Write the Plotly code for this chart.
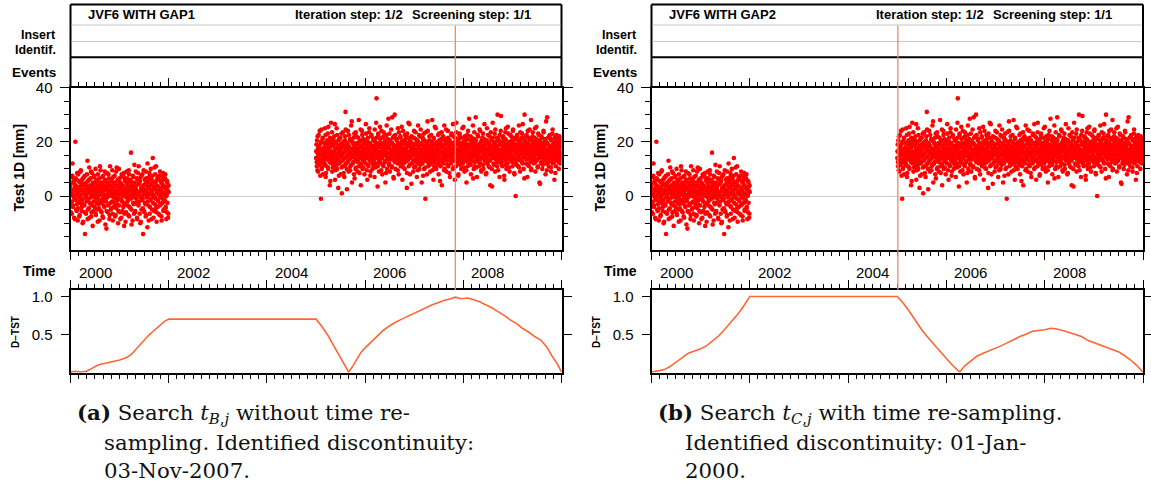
import plotly.graph_objects as go
import pandas as pd

# ---------------- data ----------------
SEG1_START = "2000-01-01"
SEG1_EXTRA_START = "2000-01-02 12:00"
SEG2_START = "2005-01-01"
SEG2_EXTRA_START = "2005-01-02 12:00"
SAMPLE_FREQ = "3D"

seg1_values = [
    3, -6, 1, 7, -2, 12, -4, 0, 5, -8, 2, -1, 20, 4, -5, 6, -3, 1, -9, 8,
    0, -2, 3, -7, 5, 9, -1, 2, -4, 6, -10, 1, 4, -3, 7, -6, -14, 2, 0, 5,
    -2, 8, 13, -5, 3, -1, 6, -8, 1, 4, -3, 9, -6, 0, 2, -11, 5, 7, -2, 3,
    -4, 1, 10, -7, 6, -1, 2, -5, 8, 0, -3, 4, -9, 11, 1, -2, 5, -6, 3, 7,
    -1, -8, 4, 2, -4, 9, 0, 6, -2, -12, 3, 5, -6, 1, 8, -3, 2, -7, 11, 4,
    -5, 0, 6, -2, 3, -9, 7, 1, -4, 5, 2, -1, -7, 9, 0, 4, -3, 6, -10, 2,
    10, -1, 3, -6, 5, 1, -8, 8, -2, 4, 0, -4, 7, -11, 2, 6, -3, 1, -6, 9,
    3, -2, 5, -7, 0, 8, -4, 2, 6, -1, 16, -5, 4, 1, -9, 3, 7, -3, 0, 5,
    -6, 2, 9, -1, 4, -8, 1, 6, -3, 11, -2, 5, 0, -10, 7, 3, -5, 2, 8, -1,
    -14, 4, 1, -6, 6, 2, -3, 9, -7, 0, 5, 12, -2, 3, -9, 7, 1, -4, 4, 10,
    -1, 6, -5, 2, 14, 0, -8, 5, 3, -3, 8, -1, 11, -6, 4, 1, -4, 7, -2, 6,
    2, -7, 9, 0, -3, 5, -9, 3, 7, -1, 4, -5, 6, 1, -2, 8, -4, 3, 0, -6, 5, 2, -8, 4,
]

seg1_extra_values = [
    -2.5, 4.5, 0.5, -6.5, 7.5, 1.5, -3.5, 5.5, -0.5, 2.5, -8.5, 3.5, 6.5, -1.5, 0.5, -5.5, 8.5, 2.5, -4.5, 1.5,
    5.5, -7.5, -0.5, 3.5, -2.5, 9.5, 0.5, -5.5, 4.5, -1.5, 6.5, -9.5, 2.5, 1.5, -3.5, 7.5, -0.5, 4.5, -6.5, 0.5,
    3.5, -1.5, -8.5, 5.5, 1.5, -4.5, 10.5, 2.5, -2.5, 6.5, -0.5, -7.5, 3.5, 8.5, -3.5, 0.5, 4.5, -5.5, 1.5, 7.5,
    -0.5, 2.5, -6.5, 4.5, -2.5, 0.5, 5.5, -9.5, 3.5, 1.5, -4.5, 6.5, -1.5, 2.5, 9.5, -5.5, 0.5, -2.5, 4.5, -7.5,
    1.5, 7.5, -3.5, 0.5, 5.5, -1.5, -10.5, 3.5, 2.5, -5.5, 8.5, -0.5, 4.5, -3.5, 1.5, 6.5, -8.5, 0.5, 3.5, -2.5,
    5.5, -4.5, 1.5, 9.5, -6.5, 2.5, -0.5, 4.5, -2.5, 7.5, -7.5, 0.5, 3.5, -4.5, 10.5, 1.5, -1.5, 5.5, -5.5, 2.5,
    -3.5, 6.5, 0.5, -8.5, 4.5, 2.5, -1.5, 7.5, -5.5, 1.5, 3.5, -2.5, 8.5, -6.5, 0.5, 5.5, -9.5, 2.5, -0.5, 4.5,
    6.5, -3.5, 1.5, -1.5, 9.5, -7.5, 3.5, 0.5, -4.5, 5.5, 2.5, -10.5, 4.5, -0.5, 7.5, -2.5, 1.5, -6.5, 11.5, 0.5,
    -5.5, 3.5, 2.5, -2.5, 6.5, -8.5, 0.5, 8.5, -3.5, 4.5, 1.5, -6.5, 5.5, -0.5, -9.5, 2.5, 7.5, -1.5, 3.5, -4.5,
    0.5, 9.5, -5.5, 2.5, -2.5, 4.5, -7.5, 6.5, 1.5, -0.5, -11.5, 3.5, 5.5, -3.5, 0.5, 8.5, -6.5, 2.5, -1.5, 6.5,
    4.5, -8.5, 1.5, 7.5, -2.5, 0.5, 3.5, -5.5, 10.5, -0.5, 2.5, -4.5, 5.5, -9.5, 1.5, 6.5, -1.5, 3.5, -6.5, 0.5,
    7.5, -3.5, 2.5, -0.5, 5.5, -7.5, 1.5, 4.5, -2.5, 8.5, -5.5, 0.5, 3.5, -1.5, 6.5, -4.5, 2.5, -8.5, 0.5, 5.5,
    -2.5, 3.5, -6.5, 1.5,
]

seg2_values = [
    14, 19, 11, 16, 22, 9, 15, 18, 13, 24, 12, 17, -1, 20, 10, 15, 21, 8, 16, 13,
    18, 12, 25, 14, 7, 17, 11, 19, 15, 23, 10, 16, 20, 13, 4, 18, 15, 27, 12, 21,
    9, 16, 14, 19, 11, 22, 17, 6, 15, 20, 13, 25, 10, 18, 14, 3, 17, 21, 12, 16,
    19, 8, 15, 23, 1, 13, 18, 11, 20, 16, 7, 14, 22, 31, 12, 17, 10, 19, 15, 24,
    13, 9, 18, 16, 21, 11, 14, 26, 17, 5, 20, 12, 15, 19, 8, 23, 14, 18, 10, 16,
    22, 13, 17, 9, 19, 15, 28, 11, 16, 20, 12, 4, 18, 14, 24, 10, 17, 21, 13, 15,
    8, 19, 16, 12, 23, 14, 18, 6, 20, 15, 11, 17, 25, 13, 19, 9, 16, 22, 14, 18,
    10, 15, 21, 13, 17, 7, 20, 12, 16, 27, 36, 14, 19, 11, 23, 15, 9, 18, 13, 21,
    16, 12, 24, 14, 8, 19, 17, 11, 22, 15, 20, 13, 5, 18, 16, 26, 10, 15, 21, 14,
    18, 12, 23, 9, 16, 20, 14, 17, 11, 29, 15, 19, 7, 22, 13, 30, 16, 10, 18, 14,
    21, 15, 12, 25, 17, 8, 19, 14, 16, 22, 11, 18, 13, 20, 6, 15, 24, 12, 17, 19,
    10, 16, 21, 14, 18, 3, 23, 13, 15, 27, 11, 19, 16, 8, 20, 14, 17, 22, 12, 15,
    18, 9, 16, 24, 13, 19, 11, 21, 15, 17, 7, 14, 20, 26, 12, 18, 10, 16, 22, 13,
    15, 19, 5, 17, 12, 21, 14, 23, 10, 16, 18, -1, 13, 20, 15, 8, 19, 24, 11, 17,
    14, 22, 16, 9, 18, 12, 20, 15, 28, 13, 17, 6, 21, 11, 16, 19, 14, 25, 10, 18,
    15, 12, 20, 17, 8, 23, 13, 16, 19, 11, 21, 14, 4, 18, 16, 22, 12, 15, 26, 10,
    19, 14, 17, 9, 21, 13, 16, 24, 11, 18, 15, 20, 7, 14, 17, 12, 23, 16, 19, 10,
    15, 22, 13, 18, 6, 20, 16, 11, 27, 14, 19, 12, 17, 8, 21, 15, 23, 13, 18, 16,
    10, 19, 14, 25, 12, 17, 20, 15, 9, 22, 16, 13, 18, 5, 21, 14, 11, 24, 17, 15,
    19, 12, 16, 22, 8, 18, 14, 20, 13, 26, 15, 10, 17, 21, 11, 16, 29, 14, 19, 7,
    17, 13, 22, 15, 11, 19, 16, 24, 12, 18, 9, 20, 14, 17, 23, 10, 15, 21, 13, 18,
    16, 8, 20, 14, 25, 12, 17, 19, 11, 15, 22, 13, 4, 18, 16, 21, 10, 14, 27, 17,
    12, 19, 15, 23, 9, 16, 20, 14, 18, 11, 30, 15, 21, 13, 17, 7, 19, 16, 24, 12,
    15, 20, 11, 17, 22, 14, 18, 6, 16, 21, 13, 25, 10, 19, 15, 12, 18, 23, 14, 17,
    9, 20, 16, 13, 22, 15, 18, 11, 24, 14, 17, 19, 8, 21, 12, 0, 16, 19, 13, 22,
    15, 11, 18, 26, 14, 20, 9, 17, 13, 21, 16, 23, 12, 18, 15, 10, 19, 30, 14, 17,
    22, 12, 16, 19, 7, 24, 14, 18, 11, 21, 15, 17, 13, 28, 10, 19, 16, 22, 14, 18,
    12, 20, 15, 25, 9, 17, 21, 13, 16, 19, 11, 23, 15, 18, 5, 14, 20, 17, 12, 22,
    16, 10, 19, 14, 24, 13, 18, 21, 15, 8, 20, 17, 12, 29, 14, 19, 16, 11, 22, 15,
    18, 13, 21, 9, 17, 15, 23, 12, 19, 16, 20, 6, 14, 18, 22, 11, 17, 15, 21, 13,
    19, 16, 10, 22, 14, 18, 12, 20, 15,
]

seg2_extra_values = [
    16.5, 12.5, 20.5, 9.5, 17.5, 14.5, 22.5, 11.5, 18.5, 15.5, 7.5, 19.5, 13.5, 24.5, 10.5, 16.5, 21.5, 12.5, 17.5, 14.5,
    11.5, 19.5, 15.5, 22.5, 8.5, 16.5, 13.5, 20.5, 17.5, 10.5, 25.5, 14.5, 18.5, 12.5, 21.5, 5.5, 16.5, 19.5, 13.5, 23.5,
    15.5, 10.5, 18.5, 20.5, 12.5, 16.5, 26.5, 14.5, 9.5, 19.5, 17.5, 11.5, 22.5, 15.5, 13.5, 20.5, 7.5, 18.5, 16.5, 12.5,
    21.5, 14.5, 17.5, 10.5, 19.5, 15.5, 23.5, 13.5, 8.5, 18.5, 16.5, 20.5, 11.5, 24.5, 14.5, 17.5, 2.5, 19.5, 12.5, 15.5,
    18.5, 22.5, 13.5, 16.5, 9.5, 20.5, 15.5, 11.5, 27.5, 17.5, 14.5, 19.5, 12.5, 21.5, 16.5, 6.5, 18.5, 14.5, 23.5, 10.5,
    15.5, 19.5, 12.5, 17.5, 21.5, 13.5, 16.5, 8.5, 20.5, 14.5, 24.5, 11.5, 18.5, 15.5, 22.5, 13.5, 17.5, 10.5, 19.5, 16.5,
    12.5, 20.5, 14.5, 26.5, 17.5, 9.5, 18.5, 15.5, 21.5, 11.5, 16.5, 23.5, 13.5, 19.5, 7.5, 17.5, 14.5, 22.5, 12.5, 18.5,
    15.5, 11.5, 20.5, 16.5, 13.5, 24.5, 18.5, 10.5, 17.5, 21.5, 14.5, 19.5, 3.5, 16.5, 22.5, 12.5, 18.5, 15.5, 25.5, 13.5,
    19.5, 9.5, 16.5, 21.5, 14.5, 17.5, 11.5, 23.5, 15.5, 18.5, 12.5, 20.5, 16.5, 8.5, 22.5, 14.5, 19.5, 13.5, 17.5, 28.5,
    11.5, 18.5, 15.5, 20.5, 13.5, 16.5, 24.5, 10.5, 19.5, 14.5, 21.5, 17.5, 6.5, 15.5, 18.5, 12.5, 22.5, 16.5, 13.5, 20.5,
    17.5, 14.5, 9.5, 19.5, 15.5, 23.5, 12.5, 18.5, 16.5, 21.5, 11.5, 14.5, 25.5, 17.5, 13.5, 19.5, 10.5, 16.5, 20.5, 15.5,
    22.5, 12.5, 17.5, 14.5, 19.5, 8.5, 16.5, 21.5, 13.5, 18.5, 15.5, 26.5, 11.5, 20.5, 14.5, 17.5, 4.5, 19.5, 16.5, 12.5,
    18.5, 15.5, 21.5, 10.5, 17.5, 13.5, 23.5, 16.5, 19.5, 12.5, 14.5, 20.5, 9.5, 18.5, 15.5, 22.5, 13.5, 17.5, 11.5, 24.5,
    16.5, 19.5, 12.5, 15.5, 21.5, 7.5, 18.5, 14.5, 20.5, 17.5, 10.5, 16.5, 23.5, 13.5, 19.5, 15.5, 27.5, 12.5, 18.5, 14.5,
    20.5, 11.5, 17.5, 16.5, 13.5, 22.5, 15.5, 19.5, 9.5, 18.5, 14.5, 21.5, 12.5, 16.5, 25.5, 15.5, 10.5, 19.5, 17.5, 13.5,
    18.5, 14.5, 22.5, 16.5, 11.5, 20.5, 15.5, 5.5, 17.5, 19.5, 13.5, 23.5, 16.5, 12.5, 18.5, 21.5, 14.5, 9.5, 20.5, 15.5,
    13.5, 17.5, 24.5, 14.5, 19.5, 11.5, 16.5, 21.5, 15.5, 18.5, 8.5, 20.5, 14.5, 17.5, 12.5, 22.5, 16.5, 19.5, 13.5, 26.5,
    15.5, 10.5, 18.5, 17.5, 21.5, 13.5, 16.5, 23.5, 12.5, 19.5, 15.5, 20.5, 7.5, 17.5, 14.5, 22.5, 18.5, 11.5, 16.5, 19.5,
    14.5, 21.5, 12.5, 17.5, 15.5, 25.5, 10.5, 18.5, 16.5, 20.5, 13.5, 19.5, 9.5, 15.5, 22.5, 17.5, 12.5, 18.5, 14.5, 28.5,
    16.5, 13.5, 20.5, 11.5, 18.5, 15.5, 21.5, 14.5, 17.5, 6.5, 19.5, 16.5, 23.5, 12.5, 18.5, 15.5, 20.5, 10.5, 17.5, 14.5,
    22.5, 15.5, 18.5, 12.5, 16.5, 24.5, 13.5, 19.5, 17.5, 9.5, 20.5, 14.5, 21.5, 16.5, 11.5, 18.5, 15.5, 26.5, 13.5, 17.5,
    19.5, 14.5, 8.5, 20.5, 16.5, 12.5, 22.5, 17.5, 15.5, 19.5, 10.5, 18.5, 13.5, 23.5, 16.5, 20.5, 3.5, 15.5, 21.5, 14.5,
    17.5, 11.5, 19.5, 16.5, 24.5, 13.5, 18.5, 15.5, 21.5, 12.5, 17.5, 9.5, 20.5, 14.5, 16.5, 22.5, 13.5, 19.5, 29.5, 15.5,
    12.5, 18.5, 16.5, 21.5, 14.5, 19.5, 7.5, 17.5, 15.5, 23.5, 11.5, 20.5, 16.5, 13.5, 18.5, 25.5, 14.5, 17.5, 10.5, 19.5,
    16.5, 22.5, 13.5, 18.5, 15.5, 20.5, 12.5, 17.5, 24.5, 14.5, 19.5, 8.5, 16.5, 21.5, 13.5, 18.5, 15.5, 11.5, 22.5, 17.5,
    14.5, 20.5, 16.5, 10.5, 19.5, 15.5, 23.5, 13.5, 18.5, 17.5, 21.5, 12.5, 26.5, 16.5, 14.5, 19.5, 6.5, 17.5, 20.5, 15.5,
    18.5, 13.5, 22.5, 16.5, 11.5, 19.5, 15.5, 21.5, 14.5, 24.5, 17.5, 12.5, 18.5, 9.5, 20.5, 16.5, 13.5, 23.5, 15.5, 19.5,
    14.5, 21.5, 17.5, 12.5, 18.5, 16.5, 25.5, 13.5, 19.5, 10.5, 17.5, 15.5, 22.5, 14.5, 20.5, 4.5, 16.5, 18.5, 12.5, 21.5,
    15.5, 19.5, 11.5, 17.5, 23.5, 14.5, 18.5, 16.5, 20.5, 13.5, 27.5, 15.5, 9.5, 19.5, 16.5, 21.5, 12.5, 17.5, 14.5, 22.5,
    18.5, 15.5, 10.5, 20.5, 16.5, 13.5, 24.5, 17.5, 14.5, 19.5, 12.5, 21.5, 15.5, 8.5, 18.5, 16.5, 22.5, 13.5, 19.5, 15.5,
    17.5, 12.5, 20.5, 14.5, 18.5, 16.5, 21.5, 13.5, 15.5,
]

dtst_a_dates = [
    "2000-01-01", "2000-02-10", "2000-03-20", "2000-04-25", "2000-05-20", "2000-06-15",
    "2000-07-10", "2000-08-05", "2000-09-01", "2000-10-01", "2000-11-01", "2000-12-01",
    "2001-01-01", "2001-02-01", "2001-03-01", "2001-04-01", "2001-05-01", "2001-06-01",
    "2001-07-01", "2001-08-01", "2001-09-01", "2001-10-01", "2001-11-01", "2001-12-01",
    "2002-01-01", "2005-01-01", "2005-02-15", "2005-04-01", "2005-05-15", "2005-07-01",
    "2005-08-01", "2005-09-01", "2005-10-01", "2005-11-01", "2005-12-01", "2006-01-01",
    "2006-02-15", "2006-04-01", "2006-05-15", "2006-07-01", "2006-08-15", "2006-10-01",
    "2006-11-15", "2007-01-01", "2007-02-15", "2007-04-01", "2007-05-15", "2007-07-01",
    "2007-08-15", "2007-10-01", "2007-11-03", "2007-12-15", "2008-02-01", "2008-03-15",
    "2008-05-01", "2008-06-15", "2008-08-01", "2008-09-15", "2008-11-01", "2008-12-15",
    "2009-02-01", "2009-03-15", "2009-05-01", "2009-06-15", "2009-08-01", "2009-09-15",
    "2009-10-20", "2009-12-01", "2010-01-01",
]
dtst_a_values = [
    0.0, 0.01, 0.0, 0.01, 0.03, 0.05,
    0.08, 0.10, 0.11, 0.12, 0.14, 0.15,
    0.16, 0.18, 0.20, 0.24, 0.30, 0.36,
    0.43, 0.48, 0.53, 0.58, 0.63, 0.67,
    0.70, 0.70, 0.60, 0.48, 0.34, 0.20,
    0.10, 0.0, 0.08, 0.17, 0.26, 0.32,
    0.40, 0.48, 0.55, 0.61, 0.66, 0.70,
    0.74, 0.78, 0.82, 0.86, 0.89, 0.92,
    0.95, 0.97, 0.99, 0.97, 0.98, 0.96,
    0.93, 0.89, 0.85, 0.80, 0.75, 0.69,
    0.64, 0.58, 0.53, 0.47, 0.42, 0.33,
    0.22, 0.11, 0.0,
]

dtst_b_dates = [
    "2000-01-01", "2000-02-15", "2000-04-01", "2000-05-15", "2000-07-01", "2000-08-15",
    "2000-10-01", "2000-11-15", "2001-01-01", "2001-02-15", "2001-04-01", "2001-05-15",
    "2001-07-01", "2001-08-15", "2001-10-01", "2001-11-15", "2002-01-01", "2005-01-01",
    "2005-02-15", "2005-04-01", "2005-05-15", "2005-07-01", "2005-08-15", "2005-10-01",
    "2005-11-15", "2006-01-01", "2006-02-15", "2006-04-10", "2006-05-15", "2006-07-01",
    "2006-08-15", "2006-10-01", "2006-11-15", "2007-01-01", "2007-02-15", "2007-04-01",
    "2007-05-15", "2007-07-01", "2007-08-15", "2007-10-01", "2007-11-15", "2008-01-01",
    "2008-02-15", "2008-04-01", "2008-05-15", "2008-07-01", "2008-08-15", "2008-10-01",
    "2008-11-15", "2009-01-01", "2009-02-15", "2009-04-01", "2009-05-15", "2009-07-01",
    "2009-08-15", "2009-10-01", "2009-11-15", "2010-01-01",
]
dtst_b_values = [
    0.0, 0.01, 0.03, 0.07, 0.13, 0.19,
    0.25, 0.28, 0.31, 0.35, 0.41, 0.48,
    0.57, 0.66, 0.76, 0.87, 1.0, 1.0,
    0.91, 0.80, 0.68, 0.56, 0.46, 0.36,
    0.27, 0.18, 0.09, 0.0, 0.08, 0.15,
    0.21, 0.25, 0.28, 0.31, 0.35, 0.39,
    0.43, 0.47, 0.50, 0.54, 0.55, 0.56,
    0.58, 0.57, 0.55, 0.52, 0.50, 0.47,
    0.42, 0.39, 0.36, 0.33, 0.31, 0.27,
    0.22, 0.16, 0.09, 0.0,
]

panel_titles = ["JVF6 WITH GAP1", "JVF6 WITH GAP2"]
iteration_text = "Iteration step: 1/2"
screening_text = "Screening step: 1/1"
break_dates = ["2007-11-03", "2005-01-05"]
time_tick_labels = ["2000", "2002", "2004", "2006", "2008"]
main_y_ticks = [0, 20, 40]
dtst_y_ticks = [0.5, 1.0]
dtst_y_ticktext = ["0.5", "1.0"]
caption_first_lines = [
    "<b>(a)</b> Search <i>t</i><sub><i>B</i>,<i>j</i></sub> without time re-",
    "<b>(b)</b> Search <i>t</i><sub><i>C</i>,<i>j</i></sub> with time re-sampling.",
]
caption_rest_lines = [
    ["sampling. Identified discontinuity:", "03-Nov-2007."],
    ["Identified discontinuity: 01-Jan-", "2000."],
]

# ---------------- geometry helpers ----------------
W, H = 1151, 488


def fx(px):
    return px / W


def fy(py):
    return 1 - py / H


SANS = "Liberation Sans, Arial, Helvetica, sans-serif"
SERIF = "DejaVu Serif, serif"
RED = "#ff0000"
DTST_COLOR = "#ff6633"
BREAK_COLOR = "#f4876a"

panel_x = [(70.5, 561.5), (651.5, 1143.0)]
MAIN_TOP, MAIN_BOT = 87.5, 249.5
DT_TOP, DT_BOT = 290.0, 372.5

scatter_x = (list(pd.date_range(SEG1_START, periods=len(seg1_values), freq=SAMPLE_FREQ))
             + list(pd.date_range(SEG1_EXTRA_START, periods=len(seg1_extra_values), freq=SAMPLE_FREQ))
             + list(pd.date_range(SEG2_START, periods=len(seg2_values), freq=SAMPLE_FREQ))
             + list(pd.date_range(SEG2_EXTRA_START, periods=len(seg2_extra_values), freq=SAMPLE_FREQ)))
scatter_y = seg1_values + seg1_extra_values + seg2_values + seg2_extra_values

dtst_dates = [dtst_a_dates, dtst_b_dates]
dtst_values = [dtst_a_values, dtst_b_values]

fig = go.Figure()
layout = dict(
    width=W, height=H, autosize=False,
    margin=dict(l=0, r=0, t=0, b=0, pad=0, autoexpand=False),
    paper_bgcolor="white", plot_bgcolor="white", showlegend=False,
    font=dict(family=SANS, color="black"),
)
shapes = []
annotations = []


def xaxis_cfg(domain, anchor):
    return dict(
        domain=domain, anchor=anchor, type="date", automargin=False,
        range=["2000-01-01", "2010-01-01"],
        tick0="2000-01-01", dtick="M24",
        ticks="outside", ticklen=8, tickwidth=1, tickcolor="black",
        showline=True, linewidth=2, linecolor="black", mirror="ticks",
        showticklabels=False, showgrid=False, zeroline=False,
        minor=dict(tick0="2000-01-01", dtick="M2", ticks="outside",
                   ticklen=4, tickwidth=1, tickcolor="black", showgrid=False),
    )


for p in range(2):
    x0, x1 = panel_x[p]
    xdom = [fx(x0), fx(x1)]
    xm, ym = 2 * p + 1, 2 * p + 1
    xd, yd = 2 * p + 2, 2 * p + 2
    xm_name = "x" if xm == 1 else f"x{xm}"
    ym_name = "y" if ym == 1 else f"y{ym}"
    xd_name, yd_name = f"x{xd}", f"y{yd}"

    layout["xaxis" if xm == 1 else f"xaxis{xm}"] = xaxis_cfg(xdom, ym_name)
    layout["yaxis" if ym == 1 else f"yaxis{ym}"] = dict(
        domain=[fy(MAIN_BOT), fy(MAIN_TOP)], anchor=xm_name, automargin=False,
        range=[-19.7, 40], tickmode="array", tickvals=main_y_ticks,
        ticks="outside", ticklen=9, tickwidth=1, tickcolor="black",
        showline=True, linewidth=2, linecolor="black", mirror="ticks",
        showgrid=False, zeroline=True, zerolinecolor="#cfcfcf", zerolinewidth=1,
        tickfont=dict(size=15, family=SANS), ticklabelstandoff=4,
        minor=dict(tick0=0, dtick=5, ticks="outside", ticklen=4.5,
                   tickwidth=1, tickcolor="black", showgrid=False),
    )
    layout[f"xaxis{xd}"] = xaxis_cfg(xdom, yd_name)
    layout[f"yaxis{yd}"] = dict(
        domain=[fy(DT_BOT), fy(DT_TOP)], anchor=xd_name, automargin=False,
        range=[-0.005, 1.085], tickmode="array", tickvals=dtst_y_ticks,
        ticktext=dtst_y_ticktext,
        ticks="outside", ticklen=8, tickwidth=1, tickcolor="black",
        showline=True, linewidth=2, linecolor="black", mirror="ticks",
        showgrid=False, zeroline=False,
        tickfont=dict(size=15, family=SANS), ticklabelstandoff=5,
    )

    fig.add_trace(go.Scatter(
        x=scatter_x, y=scatter_y, mode="markers", xaxis=xm_name, yaxis=ym_name,
        marker=dict(size=4.6, color=RED, line=dict(width=0)), hoverinfo="skip",
    ))
    fig.add_trace(go.Scatter(
        x=dtst_dates[p], y=dtst_values[p], mode="lines", xaxis=xd_name, yaxis=yd_name,
        line=dict(color=DTST_COLOR, width=1.6), hoverinfo="skip",
    ))

    blk = dict(color="black", width=2)
    gry = dict(color="#c8c8c8", width=1)
    shapes += [
        dict(type="line", xref="paper", yref="paper", x0=fx(x0), x1=fx(x1),
             y0=fy(4.5), y1=fy(4.5), line=blk),
        dict(type="line", xref="paper", yref="paper", x0=fx(x0), x1=fx(x0),
             y0=fy(4.5), y1=fy(MAIN_TOP), line=blk),
        dict(type="line", xref="paper", yref="paper", x0=fx(x1), x1=fx(x1),
             y0=fy(4.5), y1=fy(MAIN_TOP), line=blk),
        dict(type="line", xref="paper", yref="paper", x0=fx(x0), x1=fx(x1),
             y0=fy(57.3), y1=fy(57.3), line=blk),
        dict(type="line", xref="paper", yref="paper", x0=fx(x0 + 1), x1=fx(x1 - 1),
             y0=fy(25), y1=fy(25), line=gry),
        dict(type="line", xref="paper", yref="paper", x0=fx(x0 + 1), x1=fx(x1 - 1),
             y0=fy(41.5), y1=fy(41.5), line=gry),
        dict(type="line", xref=xm_name, yref="paper", x0=break_dates[p], x1=break_dates[p],
             y0=fy(25.5), y1=fy(DT_TOP), line=dict(color=BREAK_COLOR, width=1.3),
             layer="above"),
    ]

    hdr = dict(family=SANS, size=13, color="black")
    bold = lambda s: f"<b>{s}</b>"
    annotations += [
        dict(text=bold(panel_titles[p]), x=fx(x0 + 15.5), y=fy(15), xref="paper", yref="paper",
             xanchor="left", yanchor="middle", showarrow=False, font=hdr),
        dict(text=bold(iteration_text), x=fx(x0 + 222), y=fy(15), xref="paper", yref="paper",
             xanchor="left", yanchor="middle", showarrow=False, font=hdr),
        dict(text=bold(screening_text), x=fx(x0 + 462.5), y=fy(15), xref="paper", yref="paper",
             xanchor="right", yanchor="middle", showarrow=False, font=hdr),
        dict(text=bold("Insert"), x=fx(x0 - 13), y=fy(35.5), xref="paper", yref="paper",
             xanchor="right", yanchor="middle", showarrow=False, font=dict(size=12.5)),
        dict(text=bold("Identif."), x=fx(x0 - 13), y=fy(50), xref="paper", yref="paper",
             xanchor="right", yanchor="middle", showarrow=False, font=dict(size=12.5)),
        dict(text=bold("Events"), x=fx(x0 - 13), y=fy(72.5), xref="paper", yref="paper",
             xanchor="right", yanchor="middle", showarrow=False, font=dict(size=13.5)),
        dict(text=bold("Test 1D [mm]"), x=fx(x0 - 52), y=fy(168), xref="paper", yref="paper",
             xanchor="center", yanchor="middle", textangle=-90, showarrow=False,
             font=dict(size=14)),
        dict(text=bold("Time"), x=fx(x0 - 13), y=fy(271), xref="paper", yref="paper",
             xanchor="right", yanchor="middle", showarrow=False, font=dict(size=14)),
        dict(text=bold("D\u2212TST"), x=fx(x0 - 55), y=fy(332.5), xref="paper", yref="paper",
             xanchor="center", yanchor="middle", textangle=-90, showarrow=False,
             font=dict(size=10)),
    ]
    for lab in time_tick_labels:
        annotations.append(dict(
            text=lab, x=f"{lab}-07-02", y=fy(272), xref=xm_name, yref="paper",
            xanchor="center", yanchor="middle", showarrow=False,
            font=dict(size=15, family=SANS)))

    cap_font = dict(size=21.3, family=SERIF, color="#111111")
    annotations.append(dict(
        text=caption_first_lines[p], x=fx(x0 + 4.5), y=fy(413.5), xref="paper", yref="paper",
        xanchor="left", yanchor="middle", showarrow=False, font=cap_font))
    annotations.append(dict(
        text="<br>".join(caption_rest_lines[p]), x=fx(x0 + 31.5), y=fy(456), xref="paper",
        yref="paper", xanchor="left", yanchor="middle", align="left", showarrow=False,
        font=cap_font))

layout["shapes"] = shapes
layout["annotations"] = annotations
fig.update_layout(**layout)
fig.write_html("out.html")
